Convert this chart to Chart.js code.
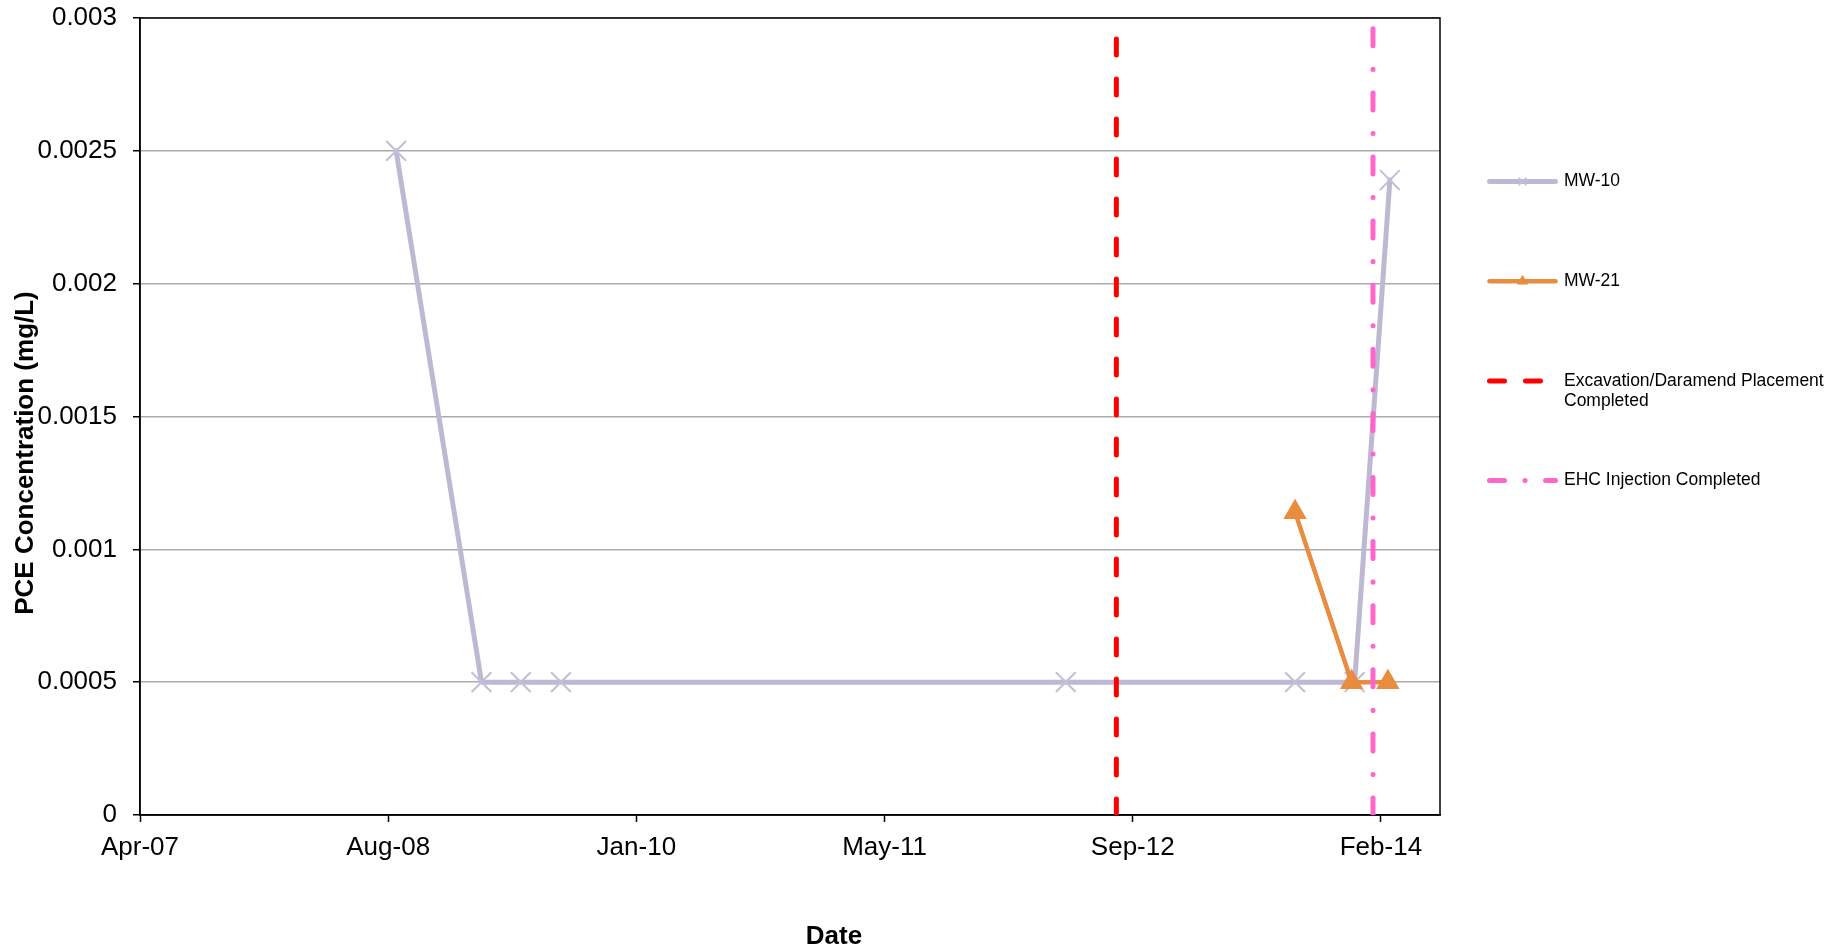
<!DOCTYPE html>
<html><head><meta charset="utf-8">
<script src="https://cdn.jsdelivr.net/npm/chart.js@4.4.1/dist/chart.umd.min.js"></script>
<style>html,body{margin:0;padding:0;background:#fff;} #wrap{width:1845px;height:950px;position:relative;}</style>
</head><body><div id="wrap"><canvas id="c"></canvas></div>
<script>
// ---- data ----
const mw10Dates = ['2008-09-05','2009-02-24','2009-05-14','2009-08-03','2012-05-16','2013-08-21','2013-12-19','2014-02-28'];
const mw10Values = [0.0025,0.0005,0.0005,0.0005,0.0005,0.0005,0.0005,0.00239];
const mw21Dates = ['2013-08-21','2013-12-13','2014-02-24'];
const mw21Values = [0.00114,0.0005,0.0005];
const excavationDate = '2012-08-26';
const ehcDate = '2014-01-25';
const markerLineValues = [0, 0.003];
const xTickDates = ['2007-04-08','2008-08-20','2010-01-02','2011-05-17','2012-09-28','2014-02-10'];
const xTickLabels = ['Apr-07','Aug-08','Jan-10','May-11','Sep-12','Feb-14'];
const xMinDate = '2007-04-08';
const xMaxDate = '2014-06-09';
const yTicks = [0,0.0005,0.001,0.0015,0.002,0.0025,0.003];
const yTickLabels = ['0','0.0005','0.001','0.0015','0.002','0.0025','0.003'];
const seriesNames = ['MW-10','MW-21','Excavation/Daramend Placement Completed','EHC Injection Completed'];
const xTitle = 'Date';
const yTitle = 'PCE Concentration (mg/L)';

const toDay = s => Date.parse(s + 'T00:00:00Z') / 864e5;
const FONT = '"Liberation Sans", Arial, sans-serif';
Chart.defaults.font.family = FONT;
Chart.defaults.color = '#000';

const frame = {
  id: 'frame',
  beforeDatasetsDraw(chart) {
    const {ctx, chartArea: a} = chart;
    ctx.save();
    ctx.strokeStyle = '#000'; ctx.lineWidth = 1.5;
    ctx.strokeRect(a.left, a.top, a.right - a.left, a.bottom - a.top);
    ctx.restore();
  }
};

const titles = {
  id: 'titles',
  afterDraw(chart) {
    const ctx = chart.ctx;
    ctx.save();
    ctx.fillStyle = '#000';
    ctx.font = 'bold 26px ' + FONT;
    ctx.textAlign = 'center';
    ctx.textBaseline = 'alphabetic';
    ctx.fillText(xTitle, 834, 944);
    ctx.translate(33, 453);
    ctx.rotate(-Math.PI / 2);
    ctx.fillText(yTitle, 0, 0);
    ctx.restore();
  }
};

const sideLegend = {
  id: 'sideLegend',
  afterDraw(chart) {
    const ctx = chart.ctx;
    const x0 = 1487, x1 = 1558, tx = 1564, y0 = 181.5, dy = 99.7, maxW = 275, lh = 20;
    chart.data.datasets.forEach((ds, i) => {
      const y = y0 + i * dy;
      ctx.save();
      ctx.strokeStyle = ds.borderColor;
      ctx.lineWidth = ds.borderWidth;
      ctx.lineCap = 'round';
      ctx.setLineDash(ds.legendDash || ds.borderDash || []);
      ctx.beginPath(); ctx.moveTo(x0 + 2.5, y); ctx.lineTo(x1 - 2.5, y); ctx.stroke();
      ctx.setLineDash([]);
      if (ds.pointRadius > 0) {
        ctx.strokeStyle = ds.pointBorderColor; ctx.fillStyle = ds.pointBackgroundColor;
        ctx.lineWidth = 1.5;
        Chart.helpers.drawPoint(ctx, {pointStyle: ds.pointStyle, radius: 5, borderWidth: 1.5, rotation: 0}, (x0 + x1) / 2, y);
      }
      ctx.fillStyle = '#000';
      ctx.font = '17.5px ' + FONT;
      ctx.textAlign = 'left';
      ctx.textBaseline = 'middle';
      const words = ds.label.split(' ');
      const lines = []; let cur = '';
      words.forEach(w => {
        const t = cur ? cur + ' ' + w : w;
        if (ctx.measureText(t).width > maxW && cur) { lines.push(cur); cur = w; } else cur = t;
      });
      lines.push(cur);
      lines.forEach((l, k) => ctx.fillText(l, tx, y + k * lh));
      ctx.restore();
    });
  }
};

new Chart(document.getElementById('c'), {
  type: 'line',
  data: {
    datasets: [
      {
        label: seriesNames[0],
        data: mw10Dates.map((d, i) => ({x: toDay(d), y: mw10Values[i]})),
        borderColor: '#BEB8D2', borderWidth: 5, borderCapStyle: 'round', borderJoinStyle: 'round',
        pointStyle: 'crossRot', pointRadius: 14, pointBorderWidth: 2,
        pointBorderColor: '#C4BED8', pointBackgroundColor: '#C4BED8',
        tension: 0, order: 4
      },
      {
        label: seriesNames[1],
        data: mw21Dates.map((d, i) => ({x: toDay(d), y: mw21Values[i]})),
        borderColor: '#E88C40', borderWidth: 4.5, borderCapStyle: 'round', borderJoinStyle: 'round',
        pointStyle: 'triangle', pointRadius: 12, pointBorderWidth: 1.5,
        pointBorderColor: '#E88C40', pointBackgroundColor: '#E88C40',
        tension: 0, order: 3
      },
      {
        label: seriesNames[2],
        data: markerLineValues.map(v => ({x: toDay(excavationDate), y: v})),
        borderColor: '#FF0000', borderWidth: 5, borderCapStyle: 'round',
        borderDash: [16, 24], legendDash: [15, 21],
        pointRadius: 0, order: 2
      },
      {
        label: seriesNames[3],
        data: markerLineValues.map(v => ({x: toDay(ehcDate), y: v})),
        borderColor: '#FF66CC', borderWidth: 5, borderCapStyle: 'round',
        borderDash: [17, 23.5, 0.1, 23.5], legendDash: [15, 20.5, 0.1, 20.5],
        pointRadius: 0, order: 1
      }
    ]
  },
  options: {
    responsive: true, maintainAspectRatio: false, devicePixelRatio: 1, animation: false,
    layout: {padding: {left: 0, top: 18, right: 405, bottom: 0}},
    plugins: {legend: {display: false}, tooltip: {enabled: false}},
    scales: {
      x: {
        type: 'linear', min: toDay(xMinDate), max: toDay(xMaxDate),
        afterBuildTicks: s => { s.ticks = xTickDates.map(d => ({value: toDay(d)})); },
        afterFit: s => { s.height = 135; s.paddingLeft = 0; s.paddingRight = 0; },
        ticks: {callback: (v, i) => xTickLabels[i], font: {size: 26}, padding: 10, maxRotation: 0, minRotation: 0, autoSkip: false, color: '#000'},
        grid: {drawOnChartArea: false, drawTicks: true, tickLength: 7, tickColor: '#000', tickWidth: 1.5},
        border: {color: '#000', width: 1.5}
      },
      y: {
        min: 0, max: 0.003,
        afterBuildTicks: s => { s.ticks = yTicks.map(v => ({value: v})); },
        afterFit: s => { s.width = 140; s.paddingTop = 0; s.paddingBottom = 0; },
        ticks: {callback: (v, i) => yTickLabels[i], font: {size: 26}, padding: 16, color: '#000'},
        grid: {color: '#ABABAB', lineWidth: 1.5, drawTicks: true, tickLength: 7, tickColor: '#000', tickWidth: 1.5},
        border: {color: '#000', width: 1.5}
      }
    }
  },
  plugins: [frame, titles, sideLegend]
});
</script>
</body></html>
